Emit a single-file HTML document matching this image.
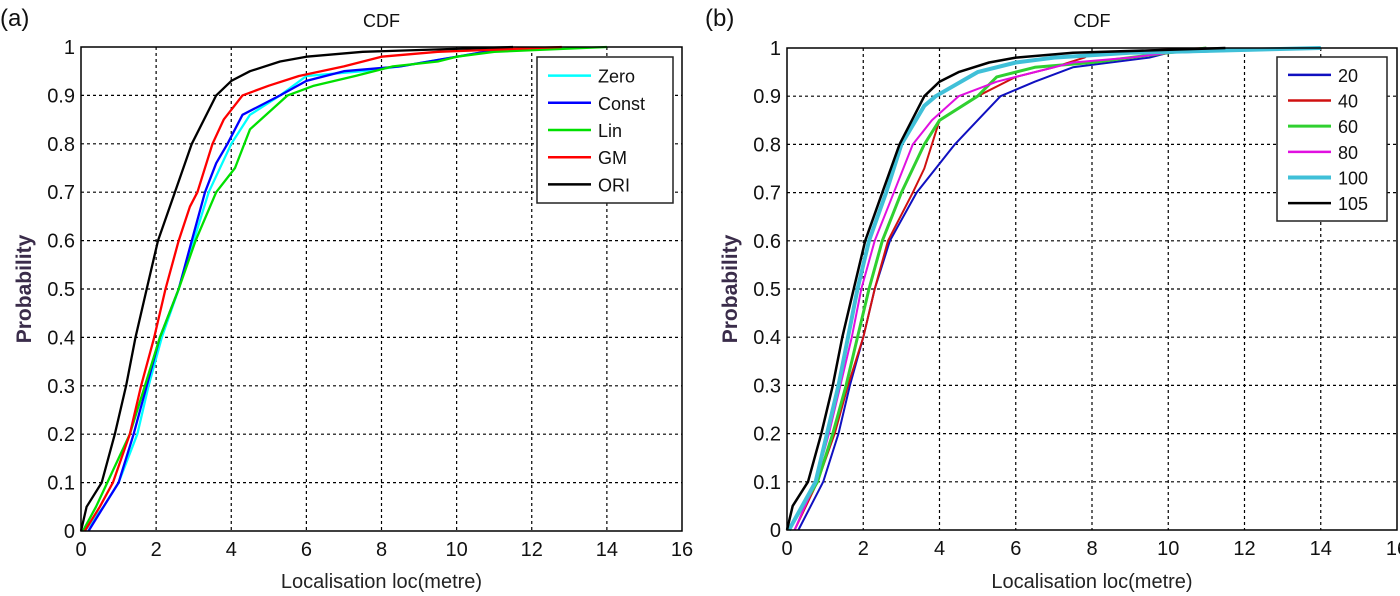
<!DOCTYPE html>
<html><head><meta charset="utf-8">
<style>
html,body{margin:0;padding:0;background:#fff;}
svg{display:block;font-family:"Liberation Sans",Arial,sans-serif;}
</style></head>
<body>
<svg id="fig" width="1400" height="596" viewBox="0 0 1400 596"></svg>
<script>
// ---- Panel (a) data ----
const panelATitle = "CDF";
const xTicks = [0,2,4,6,8,10,12,14,16];
const yTicks = [0,0.1,0.2,0.3,0.4,0.5,0.6,0.7,0.8,0.9,1];
const yTickLabels = ["0","0.1","0.2","0.3","0.4","0.5","0.6","0.7","0.8","0.9","1"];
const aNames = ["Zero","Const","Lin","GM","ORI"];
const aColors = ["#00ffff","#0000ff","#00e000","#ff0000","#000000"];
const zeroX = [0.1,0.6,1.0,1.5,1.8,2.15,2.6,3.0,3.4,4.0,4.5,5.3,6.0,7.5,8.5,10,11.5];
const zeroP = [0,0.05,0.1,0.2,0.3,0.4,0.5,0.6,0.7,0.8,0.86,0.9,0.94,0.95,0.96,0.98,1];
const constX = [0.2,0.6,1.0,1.4,1.75,2.1,2.6,2.95,3.3,3.6,3.9,4.3,5.3,6.0,7,8.5,10,11.5];
const constP = [0,0.05,0.1,0.2,0.3,0.4,0.5,0.6,0.7,0.76,0.8,0.86,0.9,0.93,0.95,0.96,0.98,1];
const linX = [0.05,0.4,0.7,1.3,1.7,2.1,2.6,3.05,3.6,4.1,4.5,5.5,6.2,7.3,8.3,9.5,10,11,14];
const linP = [0,0.05,0.1,0.2,0.3,0.4,0.5,0.6,0.7,0.75,0.83,0.9,0.92,0.94,0.96,0.97,0.98,0.99,1];
const gmX = [0.1,0.5,0.85,1.3,1.6,1.95,2.25,2.6,2.9,3.1,3.5,3.8,4.3,5.0,5.8,7,8,9.5,12.8];
const gmP = [0,0.05,0.1,0.2,0.3,0.4,0.5,0.6,0.67,0.7,0.8,0.85,0.9,0.92,0.94,0.96,0.98,0.99,1];
const oriX = [0,0.15,0.55,0.9,1.2,1.45,1.75,2.05,2.5,2.95,3.6,4.0,4.5,5.3,6,7.5,11.5];
const oriP = [0,0.05,0.1,0.2,0.3,0.4,0.5,0.6,0.7,0.8,0.9,0.93,0.95,0.97,0.98,0.99,1];
// ---- Panel (b) data ----
const bNames = ["20","40","60","80","100","105"];
const bColors = ["#1010c0","#d01010","#30d030","#e010e0","#40c0d8","#000000"];
const bWidths = [2,2,3,2,4,2.5];
const s20X = [0.3,0.95,1.35,1.65,2.0,2.3,2.7,3.4,3.9,4.4,5.0,5.6,6.5,7.5,9.5,10,14];
const s20P = [0,0.1,0.2,0.3,0.4,0.5,0.6,0.7,0.75,0.8,0.85,0.9,0.93,0.96,0.98,0.99,1];
const s40X = [0.2,0.8,1.25,1.6,2.0,2.3,2.65,3.3,3.6,3.8,4.0,5.0,6,7,7.8,8,11];
const s40P = [0,0.1,0.2,0.3,0.4,0.5,0.6,0.7,0.75,0.8,0.85,0.9,0.94,0.96,0.98,0.99,1];
const s60X = [0.05,0.8,1.2,1.55,1.85,2.15,2.5,3.0,3.6,4.0,5.0,5.5,6.5,8,9,10,11];
const s60P = [0,0.1,0.2,0.3,0.4,0.5,0.6,0.7,0.8,0.85,0.9,0.94,0.96,0.97,0.98,0.99,1];
const s80X = [0.2,0.75,1.1,1.4,1.7,1.95,2.3,2.8,3.3,3.8,4.5,5.5,6.5,7.5,9,11];
const s80P = [0,0.1,0.2,0.3,0.4,0.5,0.6,0.7,0.8,0.85,0.9,0.93,0.95,0.97,0.98,1];
const s100X = [0.05,0.75,1.05,1.35,1.6,1.85,2.15,2.6,3.0,3.6,3.9,5,6,7,9,14];
const s100P = [0,0.1,0.2,0.3,0.4,0.5,0.6,0.7,0.8,0.88,0.9,0.95,0.97,0.98,0.99,1];
const s105X = [0,0.15,0.55,0.9,1.2,1.45,1.75,2.05,2.5,2.95,3.6,4.0,4.5,5.3,6,7.5,11.5];
const s105P = [0,0.05,0.1,0.2,0.3,0.4,0.5,0.6,0.7,0.8,0.9,0.93,0.95,0.97,0.98,0.99,1];

const NS = "http://www.w3.org/2000/svg";
const svg = document.getElementById('fig');
function mk(tag, attrs, parent){
  const e = document.createElementNS(NS, tag);
  for (const k in attrs) e.setAttribute(k, attrs[k]);
  (parent||svg).appendChild(e);
  return e;
}
function panel(cfg){
  const g = mk('g',{});
  
  
  const L=cfg.L,R=cfg.R,T=cfg.T,B=cfg.B;
  const sx = v => L + (v-0)/(16-0)*(R-L);
  const sy = v => B - v*(B-T);
  xTicks.forEach((t,i)=>{
    if(i>0 && i<xTicks.length-1){
      const l = mk('line',{x1:sx(t),x2:sx(t),y1:T,y2:B,stroke:'#000','stroke-width':1.2,'stroke-dasharray':'3,3'},g);
      
      
    }
    const tx = mk('text',{x:sx(t),y:B+25,'font-size':20,'text-anchor':'middle',fill:'#111'},g);
    tx.textContent = t;
    
    
  });
  yTicks.forEach((t,i)=>{
    if(i>0 && i<yTicks.length-1){
      const l = mk('line',{x1:L,x2:R,y1:sy(t),y2:sy(t),stroke:'#000','stroke-width':1.2,'stroke-dasharray':'3,3'},g);
      
      
    }
    const tx = mk('text',{x:L-6,y:sy(t)+7,'font-size':20,'text-anchor':'end',fill:'#111'},g);
    tx.textContent = yTickLabels[i];
    
    
  });
  cfg.series.forEach(s=>{
    const pts = s.x.map((v,i)=>sx(v).toFixed(1)+','+sy(s.p[i]).toFixed(1)).join(' ');
    const pl = mk('polyline',{points:pts,fill:'none',stroke:s.c,'stroke-width':s.w,'stroke-linejoin':'round'},g);
    
    
  });
  const box = mk('rect',{x:L,y:T,width:R-L,height:B-T,fill:'none',stroke:'#000','stroke-width':1.5},g);
  
  
  const lg = mk('g',{},g);
  
  
  mk('rect',{x:cfg.lx,y:cfg.ly,width:cfg.lw,height:cfg.lh,fill:'#fff',stroke:'#222','stroke-width':1.5},lg);
  const step = (cfg.lh-10)/cfg.series.length;
  cfg.series.forEach((s,i)=>{
    const y = cfg.ly+5+step*(i+0.5);
    const e = mk('g',{},lg);
    
    
    mk('line',{x1:cfg.lx+11,x2:cfg.lx+cfg.lsw,y1:y,y2:y,stroke:s.c,'stroke-width':Math.max(2.5,s.w)},e);
    const t = mk('text',{x:cfg.lx+cfg.lsw+7,y:y+7,'font-size':18,fill:'#111'},e);
    t.textContent = s.n;
  });
  const ti = mk('text',{x:(L+R)/2,y:27,'font-size':18,'text-anchor':'middle',fill:'#111'},g);
  ti.textContent = panelATitle;
  
  
  const xl = mk('text',{x:(L+R)/2,y:588,'font-size':20,'text-anchor':'middle',fill:'#222'},g);
  xl.textContent = 'Localisation loc(metre)';
  
  
  const yl = mk('text',{x:0,y:0,'font-size':21,'font-weight':600,'text-anchor':'middle',fill:'#3a2c4a',transform:'translate('+(L-50)+','+((T+B)/2)+') rotate(-90)'},g);
  yl.textContent = 'Probability';
  
  
  const pl = mk('text',{x:cfg.px,y:26,'font-size':24,fill:'#111'},g);
  pl.textContent = cfg.plabel;
  
  
}
panel({name:'panel-a',L:81,R:682,T:47,B:531,lx:537,ly:57,lw:136,lh:146,lsw:54,px:0,plabel:'(a)',
  series:[
    {n:aNames[0],c:aColors[0],w:2.3,x:zeroX,p:zeroP},
    {n:aNames[1],c:aColors[1],w:2.3,x:constX,p:constP},
    {n:aNames[2],c:aColors[2],w:2.3,x:linX,p:linP},
    {n:aNames[3],c:aColors[3],w:2.3,x:gmX,p:gmP},
    {n:aNames[4],c:aColors[4],w:2.3,x:oriX,p:oriP}
  ]});
panel({name:'panel-b',L:787,R:1397,T:48,B:530,lx:1277,ly:57,lw:110,lh:164,lsw:54,px:705,plabel:'(b)',
  series:[
    {n:bNames[0],c:bColors[0],w:bWidths[0],x:s20X,p:s20P},
    {n:bNames[1],c:bColors[1],w:bWidths[1],x:s40X,p:s40P},
    {n:bNames[2],c:bColors[2],w:bWidths[2],x:s60X,p:s60P},
    {n:bNames[3],c:bColors[3],w:bWidths[3],x:s80X,p:s80P},
    {n:bNames[4],c:bColors[4],w:bWidths[4],x:s100X,p:s100P},
    {n:bNames[5],c:bColors[5],w:bWidths[5],x:s105X,p:s105P}
  ]});
</script>
</body></html>
